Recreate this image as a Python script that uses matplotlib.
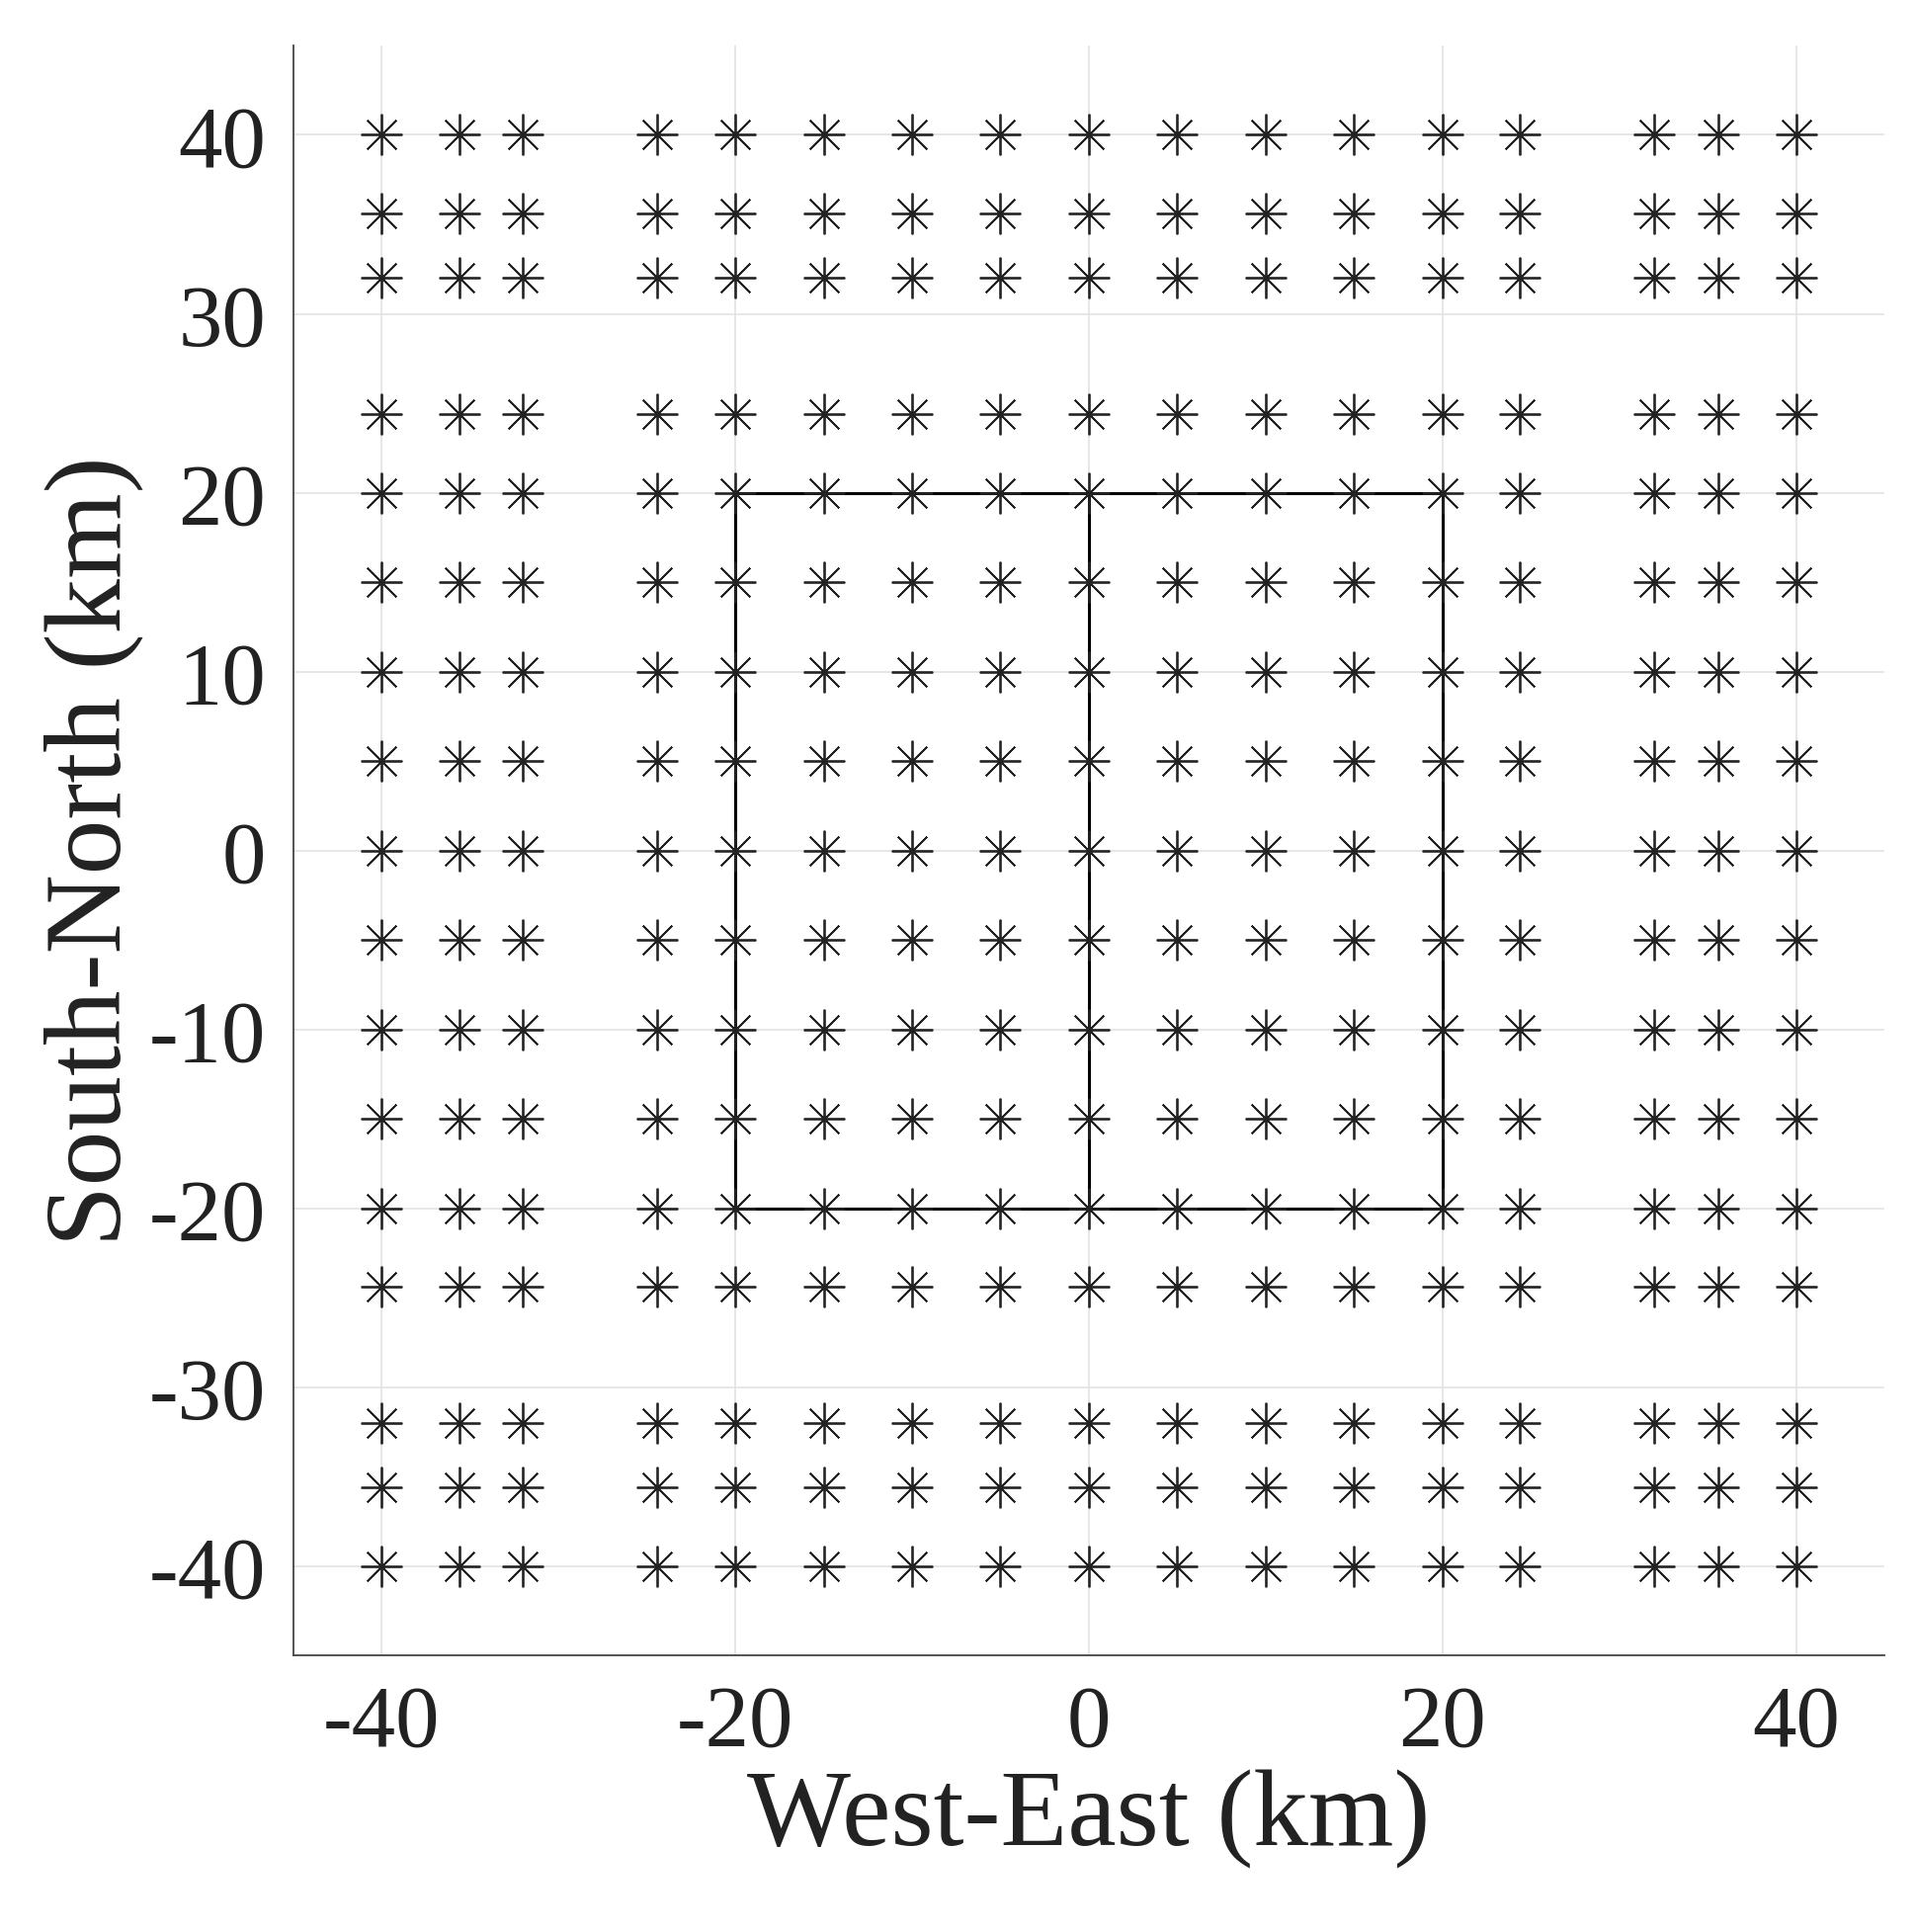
import matplotlib
matplotlib.use("Agg")
import matplotlib.pyplot as plt
import numpy as np

xs = [-40, -35.6, -32, -24.4, -20, -15, -10, -5, 0, 5, 10, 15, 20, 24.4, 32, 35.6, 40]
ys = [-40, -35.6, -32, -24.4, -20, -15, -10, -5, 0, 5, 10, 15, 20, 24.4, 32, 35.6, 40]
box_x = [-20, 20, 20, -20, -20]
box_y = [-20, -20, 20, 20, -20]
mid_x = [0, 0]
mid_y = [-20, 20]

plt.rcParams['font.family'] = ['Liberation Serif', 'DejaVu Serif']
plt.rcParams['axes.unicode_minus'] = False
fig = plt.figure(figsize=(19.4, 19.56), dpi=100)
ax = fig.add_axes([0.153, 0.143, 0.830, 0.833])
X, Y = np.meshgrid(xs, ys)
ax.plot(X.ravel(), Y.ravel(), linestyle='none', marker=(8, 2, 0), markersize=30,
        markeredgewidth=1.3, color='#222222', zorder=3)
ax.plot(box_x, box_y, color='black', lw=2.2, zorder=2)
ax.plot(mid_x, mid_y, color='black', lw=2.2, zorder=2)
ax.set_xlim(-45, 45)
ax.set_ylim(-45, 45)
ax.set_xticks([-40, -20, 0, 20, 40])
ax.set_yticks([-40, -30, -20, -10, 0, 10, 20, 30, 40])
ax.grid(True, color='#e3e3e3', lw=1.2)
for s in ['top', 'right']:
    ax.spines[s].set_visible(False)
for s in ['left', 'bottom']:
    ax.spines[s].set_color('#444444')
    ax.spines[s].set_linewidth(1.3)
ax.tick_params(labelsize=64, colors='#222222', length=0, pad=20)
ax.set_xlabel('West-East (km)', fontsize=80, color='#222222', labelpad=4)
ax.set_ylabel('South-North (km)', fontsize=80, color='#222222', labelpad=4)
fig.savefig('out.png', dpi=100)
